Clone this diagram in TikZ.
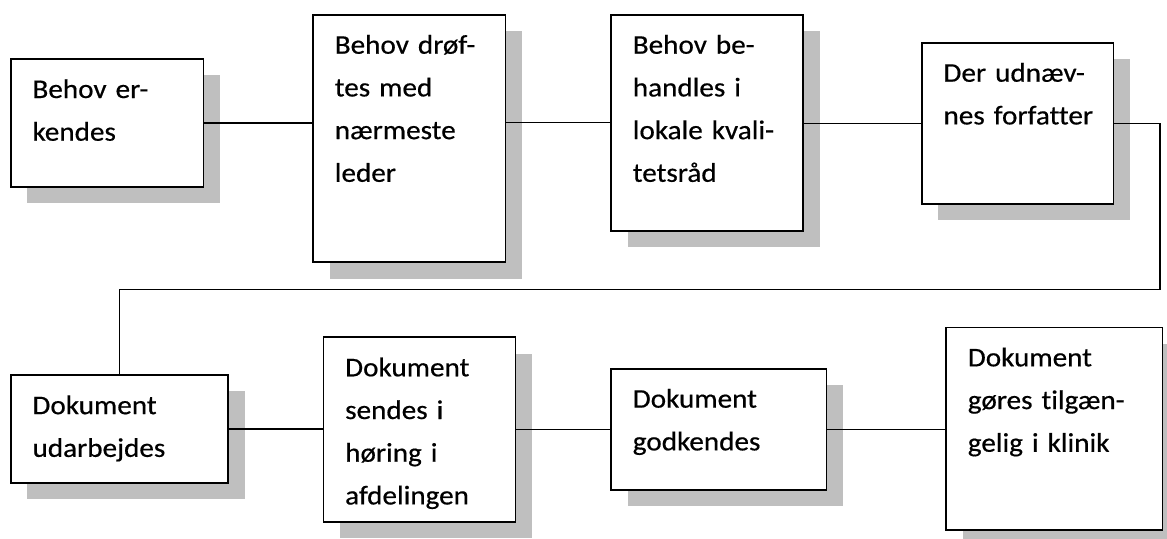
\documentclass[tikz,border=0pt]{standalone}
\usepackage{fontspec}
\newfontfamily\boxfont{Carlito}[FakeStretch=1.08,FakeBold=0.5,Ligatures={NoCommon}]
\usetikzlibrary{shadows,calc}
\definecolor{shadowgray}{RGB}{191,191,191}
\begin{document}
\begin{tikzpicture}[x=1pt,y=-1pt,
  box/.style={draw=black,line width=1.7pt,fill=white,inner sep=0pt,outer sep=0pt,
    drop shadow={shadow xshift=16.5pt,shadow yshift=-16.3pt,fill=shadowgray,opacity=1}},
  txt/.style={inner sep=0pt,outer sep=0pt,anchor=base west,text width=185pt,align=left,
    font=\boxfont\fontsize{27}{42.7}\selectfont},
  conn/.style={draw=black,line width=1.4pt}]
\useasboundingbox (0,0) rectangle (1167,538);
% top row
\node[box,minimum width=192.9pt,minimum height=128pt] (b1) at (107.15,123) {};
\node[box,minimum width=192.5pt,minimum height=247.6pt] (b2) at (409.25,138.5) {};
\node[box,minimum width=192pt,minimum height=216pt] (b3) at (707,122.7) {};
\node[box,minimum width=191.8pt,minimum height=161.3pt] (b4) at (1017.6,123.35) {};
% bottom row
\node[box,minimum width=217.3pt,minimum height=107.7pt] (b5) at (119.35,429) {};
\node[box,minimum width=192.1pt,minimum height=184.4pt] (b6) at (419.45,429.5) {};
\node[box,minimum width=215.6pt,minimum height=121.3pt] (b7) at (718.8,429.3) {};
\node[box,minimum width=216.5pt,minimum height=202.7pt] (b8) at (1054.3,428.7) {};
% texts
\node[txt] (t1) at ($(b1.north west)+(21.8,39)$) {Behov er-\\kendes};
\node[txt] (t2) at ($(b2.north west)+(21.8,39)$) {Behov drøf-\\tes med\\nærmeste\\leder};
\node[txt] (t3) at ($(b3.north west)+(21.8,39)$) {Behov be-\\handles i\\lokale kvali-\\tetsråd};
\node[txt] (t4) at ($(b4.north west)+(21.8,39)$) {Der udnæv-\\nes forfatter};
\node[txt] (t5) at ($(b5.north west)+(21.8,39)$) {Dokument\\udarbejdes};
\node[txt] (t6) at ($(b6.north west)+(21.8,39)$) {Dokument\\sendes i\\høring i\\afdelingen};
\node[txt] (t7) at ($(b7.north west)+(21.8,39)$) {Dokument\\godkendes};
\node[txt] (t8) at ($(b8.north west)+(21.8,39)$) {Dokument\\gøres tilgæn-\\gelig i klinik};
% connectors
\coordinate (turn) at (1160,289.3);
\draw[conn] (b1.east) -- (b1.east -| b2.west);
\draw[conn] (b2.east |- b3.west) -- (b3.west);
\draw[conn] (b3.east |- b4.west) -- (b4.west);
\draw[conn] (b4.east) -| (turn) -| (b5.north);
\draw[conn] (b5.east) -- (b5.east -| b6.west);
\draw[conn] (b6.east) -- (b6.east -| b7.west);
\draw[conn] (b7.east) -- (b7.east -| b8.west);
\end{tikzpicture}
\end{document}
